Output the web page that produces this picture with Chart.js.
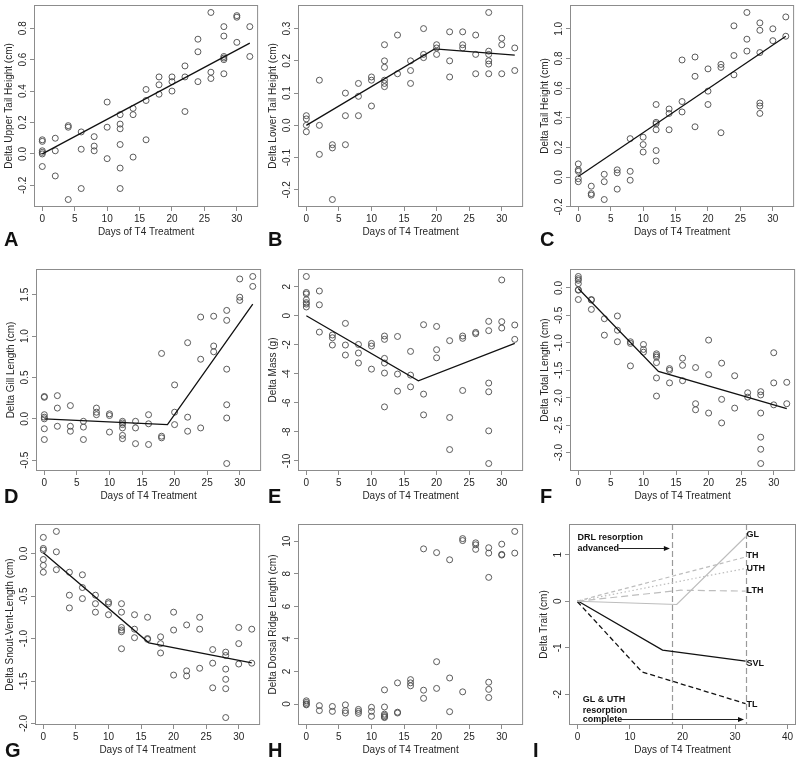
<!DOCTYPE html>
<html><head><meta charset="utf-8">
<script src="https://cdn.jsdelivr.net/npm/chart.js@4.4.1/dist/chart.umd.min.js"></script>
<style>
html,body{margin:0;padding:0;background:#fff}
body{position:relative;width:800px;height:767px;overflow:hidden}
canvas{position:absolute}
.tag{position:absolute;font:bold 20px/20px "Liberation Sans",Arial,sans-serif;color:#111}
</style></head><body>
<script>
// ---------- data ----------
const days = [0,2,4,6,8,10,12,14,16,18,20,22,24,26,28,30,32];
const xTicks = [0,5,10,15,20,25,30];
const xTicksI = [0,10,20,30,40];
const xLabel = 'Days of T4 Treatment';

const upperTail = [[0.09,0.08,0.02,0.01,0.0,-0.08],[0.10,0.02,-0.14],[0.18,0.17,-0.29],[0.14,0.03,-0.22],[0.11,0.05,0.02],[0.33,0.17,-0.03],[0.25,0.19,0.16,0.06,-0.09,-0.22],[0.29,0.25,-0.02],[0.41,0.34,0.09],[0.49,0.44,0.38],[0.49,0.46,0.40],[0.56,0.49,0.27],[0.73,0.65,0.46],[0.90,0.52,0.48],[0.81,0.75,0.62,0.61,0.60,0.51],[0.88,0.87,0.71],[0.81,0.62]];
const upperTailTicks = [-0.2,0,0.2,0.4,0.6,0.8];
const upperFitX = [0,32], upperFitY = [0,0.705];

const lowerTail = [[0.03,0.02,0.0,-0.02],[0.14,0.0,-0.09],[-0.06,-0.07,-0.23],[0.10,0.03,-0.06],[0.13,0.09,0.03],[0.15,0.14,0.06],[0.25,0.20,0.18,0.14,0.13,0.12],[0.28,0.16],[0.20,0.17,0.13],[0.30,0.22,0.21],[0.25,0.24,0.22],[0.29,0.20,0.15],[0.29,0.25,0.24],[0.28,0.22,0.16],[0.35,0.23,0.22,0.20,0.19,0.16],[0.27,0.25,0.16],[0.24,0.17]];
const lowerTailTicks = [-0.2,-0.1,0,0.1,0.2,0.3];
const lowerFitX = [0,19.7,32], lowerFitY = [0,0.237,0.218];

const tailHeight = [[0.09,0.05,0.04,-0.01,-0.03],[-0.06,-0.11,-0.12],[0.02,-0.03,-0.15],[0.05,0.03,-0.08],[0.26,0.04,-0.02],[0.27,0.22,0.17],[0.49,0.37,0.36,0.32,0.18,0.11],[0.46,0.43,0.32],[0.79,0.51,0.44],[0.81,0.68,0.34],[0.73,0.58,0.49],[0.76,0.74,0.30],[1.02,0.82,0.69],[1.11,0.93,0.85],[1.04,0.99,0.84,0.50,0.48,0.43],[1.00,0.92],[1.08,0.95]];
const tailHeightTicks = [-0.2,0,0.2,0.4,0.6,0.8,1.0];
const tailFitX = [0,32], tailFitY = [0.005,0.95];

const gill = [[0.27,0.26,0.05,0.02,0.0,-0.12,-0.25],[0.28,0.13,-0.09],[0.16,-0.09,-0.15],[-0.03,-0.10,-0.25],[0.13,0.08,0.05],[0.06,0.04,-0.16],[-0.03,-0.05,-0.07,-0.11,-0.20,-0.24],[-0.03,-0.11,-0.30],[0.05,-0.06,-0.31],[0.79,-0.21,-0.23],[0.41,0.08,-0.07],[0.92,0.02,-0.15],[1.23,0.72,-0.11],[1.24,0.88,0.81],[1.31,1.19,0.60,0.17,0.01,-0.54],[1.69,1.47,1.43],[1.72,1.60]];
const gillTicks = [-0.5,0,0.5,1.0,1.5];
const gillFitX = [0,18.9,32], gillFitY = [0,-0.07,1.385];

const mass = [[2.7,1.6,1.5,1.1,0.9,0.8,0.6],[1.7,0.75,-1.13],[-1.33,-1.52,-2.02],[-0.53,-2.02,-2.71],[-1.98,-2.57,-3.26],[-1.91,-2.09,-3.68],[-1.4,-1.63,-2.94,-3.26,-3.95,-6.28],[-1.43,-4.02,-5.2],[-2.46,-4.09,-4.9],[-0.62,-5.4,-6.83],[-0.74,-2.34,-2.9],[-1.72,-7.01,-9.22],[-1.4,-1.56,-5.15],[-1.15,-1.24],[-0.39,-1.03,-4.64,-5.24,-7.93,-10.18],[2.46,-0.41,-0.85],[-0.64,-1.63]];
const massTicks = [-10,-8,-6,-4,-2,0,2];
const massFitX = [0,17.2,32], massFitY = [0,-4.48,-1.91];

const totalLen = [[0.21,0.17,0.14,0.08,-0.03,-0.04,-0.21],[-0.21,-0.22,-0.39],[-0.56,-0.86],[-0.51,-0.77,-0.98],[-0.98,-1.01,-1.42],[-1.03,-1.12,-1.17],[-1.2,-1.23,-1.26,-1.36,-1.64,-1.97],[-1.47,-1.5,-1.73],[-1.28,-1.41,-1.69],[-1.45,-2.11,-2.22],[-0.95,-1.58,-2.28],[-1.37,-2.03,-2.46],[-1.6,-2.19],[-1.91,-1.99],[-1.89,-1.95,-2.28,-2.72,-2.94,-3.2],[-1.18,-1.73,-2.13],[-1.72,-2.11]];
const totalLenTicks = [-3.0,-2.5,-2.0,-1.5,-1.0,-0.5,0.0];
const totalFitX = [0,12.3,32], totalFitY = [-0.01,-1.52,-2.2];

const svl = [[0.19,0.06,0.04,-0.07,-0.14,-0.22],[0.26,0.02,-0.19],[-0.22,-0.49,-0.64],[-0.25,-0.40,-0.53],[-0.49,-0.59,-0.69],[-0.57,-0.59,-0.72],[-0.59,-0.69,-0.87,-0.90,-0.92,-1.12],[-0.72,-0.89,-0.99],[-0.75,-1.00,-1.01],[-0.98,-1.06,-1.17],[-0.69,-0.90,-1.43],[-0.84,-1.38,-1.44],[-0.75,-0.89,-1.35],[-1.13,-1.29,-1.58],[-1.16,-1.20,-1.36,-1.48,-1.59,-1.93],[-0.87,-1.06,-1.30],[-0.89,-1.29]];
const svlTicks = [-2.0,-1.5,-1.0,-0.5,0.0];
const svlFitX = [0,16.2,32], svlFitY = [0.01,-1.05,-1.287];

const drl = [[0.2,0.1,0.0,-0.05],[-0.1,-0.4],[-0.15,-0.45],[-0.05,-0.4,-0.55],[-0.33,-0.45,-0.57],[-0.2,-0.45,-0.75],[0.87,-0.18,-0.62,-0.7,-0.78,-0.83],[1.3,-0.5,-0.55],[1.5,1.3,1.12],[9.53,0.85,0.35],[9.3,2.6,0.96],[8.86,1.6,-0.47],[10.16,10.04,0.75],[9.9,9.78,9.5],[9.6,9.27,7.78,1.34,0.9,0.4],[9.82,9.19,9.15],[10.6,9.27]];
const drlTicks = [0,2,4,6,8,10];

const traitTicks = [-2,-1,0,1];
const traitXLim = [0,40], traitYLim = [-2.5,1.5];
const traitGuides = [18,32];
const traitNames = ['GL','TH','UTH','LTH','SVL','TL'];

// ---------- styling ----------
const FAM = '"Liberation Sans", Arial, sans-serif';
const TXT = '#262626', FRAME = '#8c8c8c', PT = '#4a4a4a';
const meas = document.createElement('canvas').getContext('2d');
meas.font = '10px ' + FAM;

function flat(vals){ const o=[]; vals.forEach((g,i)=>g.forEach(v=>o.push({x:days[i],y:v}))); return o; }
function pairs(xs,ys){ return xs.map((x,i)=>({x:x,y:ys[i]})); }
function padR(lo,hi){ const d=(hi-lo)*0.04; return [lo-d,hi+d]; }
function rangeOf(vals){ const f=vals.flat(); return padR(Math.min(...f),Math.max(...f)); }

const framePlugin = {id:'frame', afterDraw(c){
  const a=c.chartArea, g=c.ctx; g.save(); g.strokeStyle=FRAME; g.lineWidth=1;
  g.strokeRect(a.left+0.5,a.top+0.5,a.right-a.left-1,a.bottom-a.top-1); g.restore(); }};

// panel I annotations (data units)
const traitNotes = [
  {t:'DRL resorption',x:0,y:1.38},{t:'advanced',x:0,y:1.14},
  {t:'GL & UTH',x:1,y:-2.12},{t:'resorption',x:1,y:-2.34},{t:'complete',x:1,y:-2.54},
  {t:'GL',x:32.2,y:1.44},{t:'TH',x:32.2,y:0.99},{t:'UTH',x:32.2,y:0.71},{t:'LTH',x:32.2,y:0.22},
  {t:'SVL',x:32.2,y:-1.33},{t:'TL',x:32.2,y:-2.23}];
const traitArrows = [{x1:7.8,x2:17.6,y:1.14},{x1:8.1,x2:31.7,y:-2.54}];

const notesPlugin = {id:'notes',
  beforeDatasetsDraw(c){
    const g=c.ctx,a=c.chartArea,xs=c.scales.x;
    g.save(); g.strokeStyle='#9a9a9a'; g.lineWidth=1.2; g.setLineDash([6,3]);
    traitGuides.forEach(v=>{const px=Math.round(xs.getPixelForValue(v))+0.5;
      g.beginPath(); g.moveTo(px,a.top); g.lineTo(px,a.bottom); g.stroke();});
    g.restore();
  },
  afterDatasetsDraw(c){
    const g=c.ctx,xs=c.scales.x,ys=c.scales.y;
    g.save(); g.fillStyle='#111'; g.font='bold 9px '+FAM; g.textAlign='left'; g.textBaseline='middle';
    traitNotes.forEach(n=>g.fillText(n.t,xs.getPixelForValue(n.x),ys.getPixelForValue(n.y)));
    g.strokeStyle='#222'; g.lineWidth=1;
    traitArrows.forEach(r=>{
      const x1=xs.getPixelForValue(r.x1),x2=xs.getPixelForValue(r.x2),y=Math.round(ys.getPixelForValue(r.y))+0.5;
      g.beginPath(); g.moveTo(x1,y); g.lineTo(x2-5,y); g.stroke();
      g.beginPath(); g.moveTo(x2,y); g.lineTo(x2-6,y-2.5); g.lineTo(x2-6,y+2.5); g.closePath(); g.fill();
    });
    g.restore();
  }};

function makeChart(p){
  const [L,T,R,B]=p.box;
  const cl=L-35, ct=T-5, W=R+4-cl, H=B+34-ct;
  const cv=document.createElement('canvas');
  cv.width=W; cv.height=H; cv.style.left=cl+'px'; cv.style.top=ct+'px';
  document.body.appendChild(cv);
  const labels=p.yTicks.map(v=>v.toFixed(p.dec));
  const wid=Math.max(...labels.map(l=>meas.measureText(l).width));
  const font={family:FAM,size:10};
  new Chart(cv,{type:'scatter',data:{datasets:p.datasets},
    options:{responsive:false,animation:false,devicePixelRatio:1,events:[],
      layout:{padding:{left:0,top:5,right:4,bottom:0}},
      plugins:{legend:{display:false},tooltip:{enabled:false}},
      scales:{
        x:{type:'linear',min:p.xr[0],max:p.xr[1],
          afterBuildTicks:s=>{s.ticks=p.xTicks.map(v=>({value:v}));},
          afterFit:s=>{s.height=34;s.paddingLeft=0;s.paddingRight=0;},
          border:{display:false},
          grid:{drawOnChartArea:false,drawTicks:true,tickLength:4,color:FRAME,tickColor:FRAME},
          ticks:{font:font,color:TXT,padding:2,autoSkip:false,maxRotation:0,minRotation:0,callback:v=>String(v)},
          title:{display:true,text:xLabel,font:font,color:TXT,padding:{top:0,bottom:3}}},
        y:{type:'linear',min:p.yr[0],max:p.yr[1],
          afterBuildTicks:s=>{s.ticks=p.yTicks.map(v=>({value:v}));},
          afterFit:s=>{s.width=35;s.paddingTop=0;s.paddingBottom=0;},
          border:{display:false},
          grid:{drawOnChartArea:false,drawTicks:true,tickLength:4,color:FRAME,tickColor:FRAME},
          ticks:{font:font,color:TXT,minRotation:90,maxRotation:90,crossAlign:'center',padding:7-wid/2,autoSkip:false,callback:v=>Number(v).toFixed(p.dec)},
          title:{display:true,text:p.title,font:font,color:TXT,padding:{top:4,bottom:0}}}
      }},
    plugins:p.extra?[framePlugin,p.extra]:[framePlugin]});
}

function pts(vals){ return {data:flat(vals),pointRadius:3,pointBorderWidth:0.9,pointBorderColor:PT,pointBackgroundColor:'rgba(0,0,0,0)',showLine:false,order:2}; }
function fit(xs,ys,opt){ return Object.assign({data:pairs(xs,ys),showLine:true,borderColor:'#111',borderWidth:1.3,pointRadius:0,fill:false,tension:0,order:1},opt||{}); }
const X32 = padR(0,32);

const panels=[
 {tag:'A',box:[34,5,259,207],title:'Delta Upper Tail Height (cm)',vals:upperTail,yTicks:upperTailTicks,dec:1,fx:upperFitX,fy:upperFitY},
 {tag:'B',box:[298,5,524,207],title:'Delta Lower Tail Height (cm)',vals:lowerTail,yTicks:lowerTailTicks,dec:1,fx:lowerFitX,fy:lowerFitY},
 {tag:'C',box:[570,5,795,207],title:'Delta Tail Height (cm)',vals:tailHeight,yTicks:tailHeightTicks,dec:1,fx:tailFitX,fy:tailFitY},
 {tag:'D',box:[36,269,262,471],title:'Delta Gill Length (cm)',vals:gill,yTicks:gillTicks,dec:1,fx:gillFitX,fy:gillFitY},
 {tag:'E',box:[298,269,524,471],title:'Delta Mass (g)',vals:mass,yTicks:massTicks,dec:0,fx:massFitX,fy:massFitY},
 {tag:'F',box:[570,269,796,471],title:'Delta Total Length (cm)',vals:totalLen,yTicks:totalLenTicks,dec:1,fx:totalFitX,fy:totalFitY},
 {tag:'G',box:[35,524,261,725],title:'Delta Snout-Vent-Length (cm)',vals:svl,yTicks:svlTicks,dec:1,fx:svlFitX,fy:svlFitY},
 {tag:'H',box:[298,524,524,725],title:'Delta Dorsal Ridge Length (cm)',vals:drl,yTicks:drlTicks,dec:0}
];
panels.forEach(p=>{
  p.xr=X32; p.yr=rangeOf(p.vals); p.xTicks=xTicks;
  p.datasets=[pts(p.vals)];
  if(p.fx) p.datasets.push(fit(p.fx,p.fy));
  makeChart(p);
});

const LG='#bdbdbd';
makeChart({box:[569,524,796,725],title:'Delta Trait (cm)',yTicks:traitTicks,dec:0,
  xr:padR(traitXLim[0],traitXLim[1]),yr:padR(traitYLim[0],traitYLim[1]),xTicks:xTicksI,extra:notesPlugin,
  datasets:[
    fit(gillFitX,gillFitY,{borderColor:LG,borderWidth:1.2}),
    fit(tailFitX,tailFitY,{borderColor:LG,borderWidth:1.2,borderDash:[4,3]}),
    fit(upperFitX,upperFitY,{borderColor:LG,borderWidth:1.2,borderDash:[1.5,2.5]}),
    fit(lowerFitX,lowerFitY,{borderColor:LG,borderWidth:1.2,borderDash:[7,4]}),
    fit(svlFitX,svlFitY,{borderColor:'#111',borderWidth:1.3}),
    fit(totalFitX,totalFitY,{borderColor:'#111',borderWidth:1.3,borderDash:[5,3]})
  ]});

// panel letters
const tagPos=[['A',4,246],['B',268,246],['C',540,246],['D',4,503],['E',268,503],['F',540,503],['G',5,757],['H',268,757],['I',533,757]];
tagPos.forEach(([t,x,b])=>{const d=document.createElement('div');d.className='tag';d.textContent=t;d.style.left=x+'px';d.style.top=(b-17)+'px';document.body.appendChild(d);});
</script>
</body></html>
